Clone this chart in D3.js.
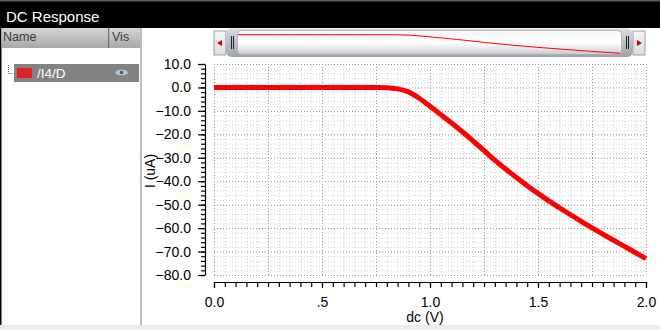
<!DOCTYPE html>
<html><head><meta charset="utf-8">
<script src="https://cdn.jsdelivr.net/npm/d3@7"></script>
<style>
html,body{margin:0;padding:0;background:#fff;}
svg{display:block;font-family:"Liberation Sans",Arial,sans-serif;}
</style></head>
<body><svg id="c" width="660" height="330"></svg>
<script>
// ---- data ----
const voltages = [0,0.1,0.2,0.3,0.4,0.5,0.6,0.7,0.75,0.8,0.85,0.9,0.95,1.0,1.05,1.1,1.15,1.2,1.25,1.3,1.35,1.4,1.45,1.5,1.55,1.6,1.65,1.7,1.75,1.8,1.85,1.9,1.95,2.0];
const currents = [0,0,0,0,0,0,0,0,0,-0.1,-0.6,-1.9,-4.6,-8.0,-11.6,-15.2,-18.9,-22.9,-26.9,-31.0,-34.8,-38.4,-41.9,-45.2,-48.4,-51.4,-54.3,-57.1,-59.9,-62.6,-65.2,-67.8,-70.4,-73.0];
const yMajorTicks = [10,0,-10,-20,-30,-40,-50,-60,-70,-80];
const xMajorTicks = [0,0.5,1.0,1.5,2.0];
const xTickLabels = ["0.0",".5","1.0","1.5","2.0"];
const traceName = "/I4/D";
const title = "DC Response";
const xTitle = "dc (V)";
const yTitle = "I (uA)";

const svg = d3.select("#c");
const defs = svg.append("defs");
const g1 = defs.append("linearGradient").attr("id","hdr").attr("x1",0).attr("x2",0).attr("y1",0).attr("y2",1);
g1.append("stop").attr("offset",0).attr("stop-color","#d4d4d4");
g1.append("stop").attr("offset",1).attr("stop-color","#a8a8a8");
const g2 = defs.append("linearGradient").attr("id","thumb").attr("x1",0).attr("x2",0).attr("y1",0).attr("y2",1);
g2.append("stop").attr("offset",0).attr("stop-color","#f4f5f6");
g2.append("stop").attr("offset",0.5).attr("stop-color","#ffffff");
g2.append("stop").attr("offset",0.8).attr("stop-color","#dfe1e4");
g2.append("stop").attr("offset",1).attr("stop-color","#c4c7cc");
const g3 = defs.append("linearGradient").attr("id","thumbEdge").attr("x1",0).attr("x2",0).attr("y1",0).attr("y2",1);
g3.append("stop").attr("offset",0).attr("stop-color","#d8dbe0");
g3.append("stop").attr("offset",1).attr("stop-color","#9ea3ab");
const g4 = defs.append("linearGradient").attr("id","btn").attr("x1",0).attr("x2",0).attr("y1",0).attr("y2",1);
g4.append("stop").attr("offset",0).attr("stop-color","#f6f6f6");
g4.append("stop").attr("offset",1).attr("stop-color","#dcdcdc");

// ---- window chrome ----
svg.append("rect").attr("x",0).attr("y",0).attr("width",660).attr("height",330).attr("fill","#fff");
svg.append("rect").attr("x",0).attr("y",0).attr("width",660).attr("height",28).attr("fill","#000");
svg.append("rect").attr("x",0).attr("y",0).attr("width",660).attr("height",1.5).attr("fill","#5a5a5a");
svg.append("text").attr("x",6).attr("y",21.5).attr("fill","#fff").attr("font-size",15).text(title);

// left panel
svg.append("rect").attr("x",0).attr("y",28).attr("width",1.5).attr("height",297).attr("fill","#000");
svg.append("rect").attr("x",1.5).attr("y",28).attr("width",138.5).attr("height",20).attr("fill","url(#hdr)");
svg.append("rect").attr("x",108).attr("y",28).attr("width",1.2).attr("height",20).attr("fill","#707070");
svg.append("text").attr("x",3).attr("y",41).attr("fill","#3a3a3a").attr("font-size",12.5).text("Name");
svg.append("text").attr("x",112).attr("y",41).attr("fill","#3a3a3a").attr("font-size",12.5).text("Vis");
svg.append("rect").attr("x",140).attr("y",28).attr("width",2).attr("height",297).attr("fill","#bdbdbd");
// tree connector
svg.append("line").attr("x1",8.5).attr("x2",8.5).attr("y1",65).attr("y2",73).attr("stroke","#555").attr("stroke-dasharray","1,1");
svg.append("line").attr("x1",8.5).attr("x2",13).attr("y1",73.5).attr("y2",73.5).attr("stroke","#555").attr("stroke-dasharray","1,1");
// selected row
svg.append("rect").attr("x",14).attr("y",64).attr("width",125).attr("height",18).attr("fill","#838383");
svg.append("rect").attr("x",17).attr("y",68).attr("width",15).attr("height",10).attr("fill","#dd2323");
svg.append("text").attr("x",37).attr("y",78).attr("fill","#fff").attr("font-size",13.5).text(traceName);
svg.append("ellipse").attr("cx",121.5).attr("cy",72.5).attr("rx",6.5).attr("ry",3.2).attr("fill","#b8c2d4").attr("stroke","#7d8aa3").attr("stroke-width",0.8);
svg.append("circle").attr("cx",121.5).attr("cy",72.5).attr("r",1.8).attr("fill","#4a5570");
// bottom strip
svg.append("rect").attr("x",0).attr("y",325).attr("width",660).attr("height",5).attr("fill","#ececec");

// ---- scales ----
const x = d3.scaleLinear().domain([0,2]).range([214,646]);
const y = d3.scaleLinear().domain([-80,10]).range([275,64]);
const plotH = 275-64, plotW = 646-214;

// grids
const xMinor = d3.range(0,41).map(i=>i*0.05);
const yMinor = d3.range(-40,6).map(i=>i*2);
const grid = svg.append("g");
grid.append("g").attr("transform","translate(0,275)")
  .call(d3.axisBottom(x).tickValues(xMinor).tickSize(-plotH).tickFormat(""))
  .call(g=>{g.select(".domain").remove();g.selectAll("line").attr("stroke","#d2d2d2").attr("stroke-dasharray","1,2");});
grid.append("g").attr("transform","translate(214,0)")
  .call(d3.axisLeft(y).tickValues(yMinor).tickSize(-plotW).tickFormat(""))
  .call(g=>{g.select(".domain").remove();g.selectAll("line").attr("stroke","#d2d2d2").attr("stroke-dasharray","1,2");});
grid.append("g").attr("transform","translate(0,275)")
  .call(d3.axisBottom(x).tickValues(d3.range(0,9).map(i=>i*0.25)).tickSize(-plotH).tickFormat(""))
  .call(g=>{g.select(".domain").remove();g.selectAll("line").attr("stroke","#9a9a9a").attr("stroke-dasharray","1,2");});
grid.append("g").attr("transform","translate(214,0)")
  .call(d3.axisLeft(y).tickValues(yMajorTicks).tickSize(-plotW).tickFormat(""))
  .call(g=>{g.select(".domain").remove();g.selectAll("line").attr("stroke","#9a9a9a").attr("stroke-dasharray","1,2");});

// axes
const yAxisX = 205;
svg.append("g").attr("transform",`translate(${yAxisX},0)`)
  .call(d3.axisLeft(y).tickValues(yMinor).tickSize(4).tickSizeOuter(0).tickFormat(""))
  .call(g=>{g.selectAll("line,path").attr("stroke","#000").attr("stroke-width",1.2);});
svg.append("g").attr("transform",`translate(${yAxisX},0)`)
  .call(d3.axisLeft(y).tickValues(yMajorTicks).tickSize(7).tickSizeOuter(0).tickPadding(7).tickFormat(d3.format(".1f")))
  .call(g=>{g.select(".domain").remove();g.selectAll("line").attr("stroke","#000").attr("stroke-width",1.2);
    g.selectAll("text").attr("font-size",14).attr("fill","#000").attr("font-family","Liberation Sans, Arial, sans-serif");});

const xAxisY = 282;
svg.append("g").attr("transform",`translate(0,${xAxisY})`)
  .call(d3.axisBottom(x).tickValues(xMinor).tickSize(5).tickSizeOuter(0).tickFormat(""))
  .call(g=>{g.selectAll("line,path").attr("stroke","#000").attr("stroke-width",1.2);});
svg.append("g").attr("transform",`translate(0,${xAxisY})`)
  .call(d3.axisBottom(x).tickValues(xMajorTicks).tickSize(6).tickSizeOuter(0).tickPadding(9).tickFormat((d,i)=>xTickLabels[i]))
  .call(g=>{g.select(".domain").remove();g.selectAll("line").attr("stroke","#000").attr("stroke-width",1.2);
    g.selectAll("text").attr("font-size",14).attr("fill","#000").attr("font-family","Liberation Sans, Arial, sans-serif");});

svg.append("text").attr("x",425).attr("y",322).attr("text-anchor","middle").attr("font-size",14).text(xTitle);
svg.append("text").attr("transform","translate(155,171) rotate(-90)").attr("text-anchor","middle").attr("font-size",14).text(yTitle);

// curve
const pts = voltages.map((v,i)=>[v,currents[i]]);
svg.append("path").datum(pts)
  .attr("d", d3.line().x(d=>x(d[0])).y(d=>y(d[1])).curve(d3.curveMonotoneX))
  .attr("fill","none").attr("stroke","#ff0000").attr("stroke-width",5);

// ---- scrollbar / overview ----
const sb = svg.append("g");
sb.append("rect").attr("x",214).attr("y",31).attr("width",12).attr("height",24).attr("fill","url(#btn)").attr("stroke","#8a8a8a").attr("stroke-width",0.8);
sb.append("path").attr("d","M217,43 L222,40 L222,46 Z").attr("fill","#d00000");
sb.append("rect").attr("x",633).attr("y",31).attr("width",12).attr("height",24).attr("fill","url(#btn)").attr("stroke","#8a8a8a").attr("stroke-width",0.8);
sb.append("path").attr("d","M642,43 L637,40 L637,46 Z").attr("fill","#d00000");
sb.append("rect").attr("x",226).attr("y",28.5).attr("width",407).attr("height",28.5).attr("rx",6).attr("fill","url(#thumbEdge)");
sb.append("rect").attr("x",237.5).attr("y",30.5).attr("width",384).attr("height",24).attr("rx",4).attr("fill","url(#thumb)").attr("stroke","#a9adb4").attr("stroke-width",0.8);
[231,233,626,628].forEach(gx=>sb.append("rect").attr("x",gx).attr("y",36).attr("width",0.9).attr("height",13).attr("fill","#111"));
const ox = d3.scaleLinear().domain([0,2]).range([238,620]);
const oy = d3.scaleLinear().domain(d3.extent(currents)).range([53.3,34.7]);
sb.append("path").datum(pts)
  .attr("d", d3.line().x(d=>ox(d[0])).y(d=>oy(d[1])))
  .attr("fill","none").attr("stroke","#ff0000").attr("stroke-width",1);
</script></body></html>
